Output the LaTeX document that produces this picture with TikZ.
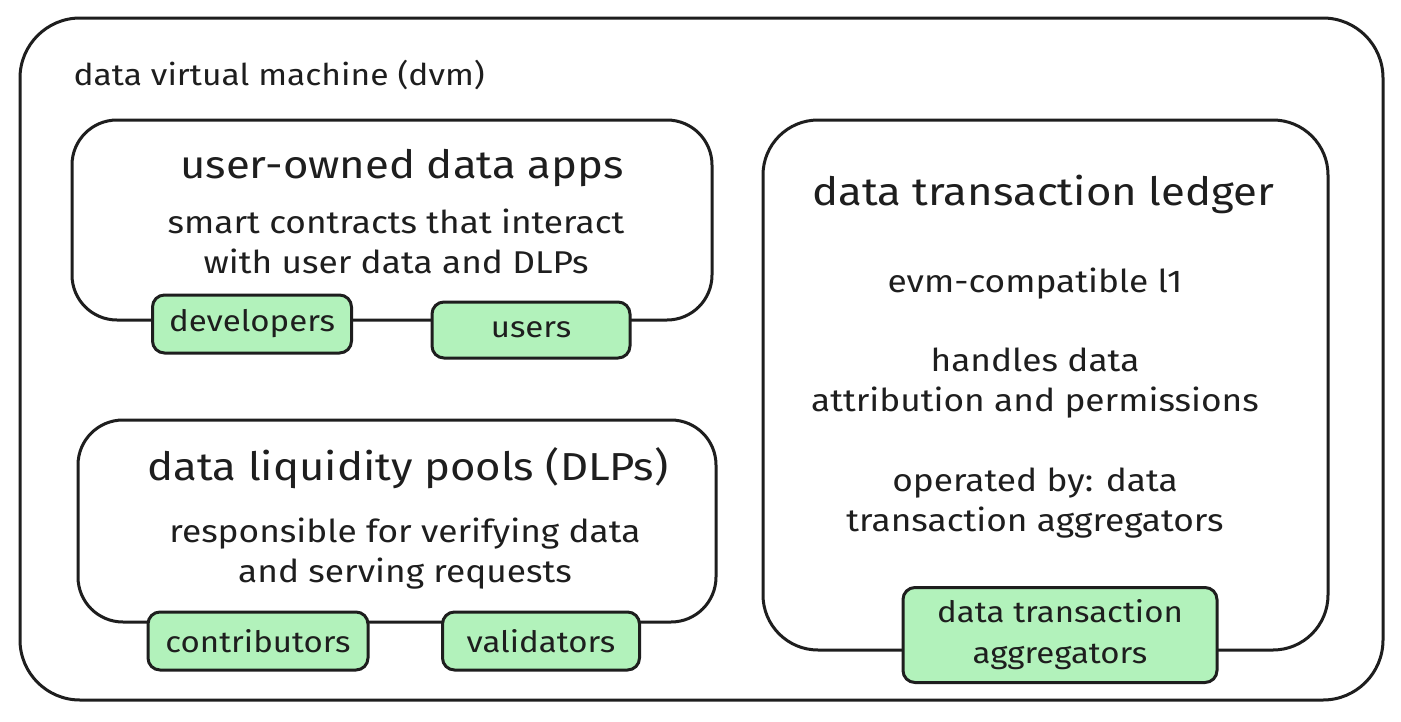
\documentclass[tikz,border=0pt]{standalone}
\usepackage{fontspec}
\setmainfont{Fira Sans}[FakeStretch=1.12]
\definecolor{ink}{HTML}{1E1E1E}
\definecolor{mint}{HTML}{B2F2BB}
\begin{document}
\begin{tikzpicture}[x=1pt,y=-1pt,
  frame/.style={draw=ink,line width=3pt,rounded corners=#1},
  tag/.style={draw=ink,fill=mint,line width=3pt,rounded corners=12pt,inner sep=0pt,align=center,font=\fontsize{29.5}{41}\selectfont,text=ink},
  title/.style={font=\fontsize{39}{44}\selectfont,text=ink,align=center},
  body/.style={font=\fontsize{31.5}{40}\selectfont,text=ink,align=center}]
\useasboundingbox (0,0) rectangle (1401,721);
\fill[white] (0,0) rectangle (1401,721);
% outer frame
\draw[frame=60pt] (20,18) rectangle (1383,700);
\node[body,anchor=west,font=\fontsize{30}{40}\selectfont] (dvm) at (70,75) {data virtual machine (dvm)};
% user-owned data apps
\draw[frame=45pt] (72,120) rectangle (712,320);
\node[title] (uoda) at (402,168) {user-owned data apps};
\node[body] (uodab) at (396,241) {smart contracts that interact\\with user data and DLPs};
\node[tag,minimum width=199pt,minimum height=58pt] (dev) at (252,324) {developers};
\node[tag,minimum width=198pt,minimum height=56pt] (usr) at (531,330) {users};
% data liquidity pools
\draw[frame=45pt] (78,420) rectangle (716,622);
\node[title] (dlp) at (408,468) {data liquidity pools (DLPs)};
\node[body] (dlpb) at (405,554) {responsible for verifying data\\and serving requests};
\node[tag,minimum width=220pt,minimum height=58pt] (con) at (258,641) {contributors};
\node[tag,minimum width=197pt,minimum height=58pt] (val) at (541,641) {validators};
% ledger
\draw[frame=55pt] (763,120) rectangle (1328,650);
\node[title] (dtl) at (1043,194) {data transaction ledger};
\node[body] (evm) at (1035,284) {evm-compatible l1};
\node[body] (hnd) at (1035,383) {handles data\\attribution and permissions};
\node[body] (opb) at (1035,503) {operated by: data\\transaction aggregators};
\node[tag,minimum width=314pt,minimum height=95pt] (agg) at (1060,635) {data transaction\\aggregators};
\end{tikzpicture}
\end{document}
